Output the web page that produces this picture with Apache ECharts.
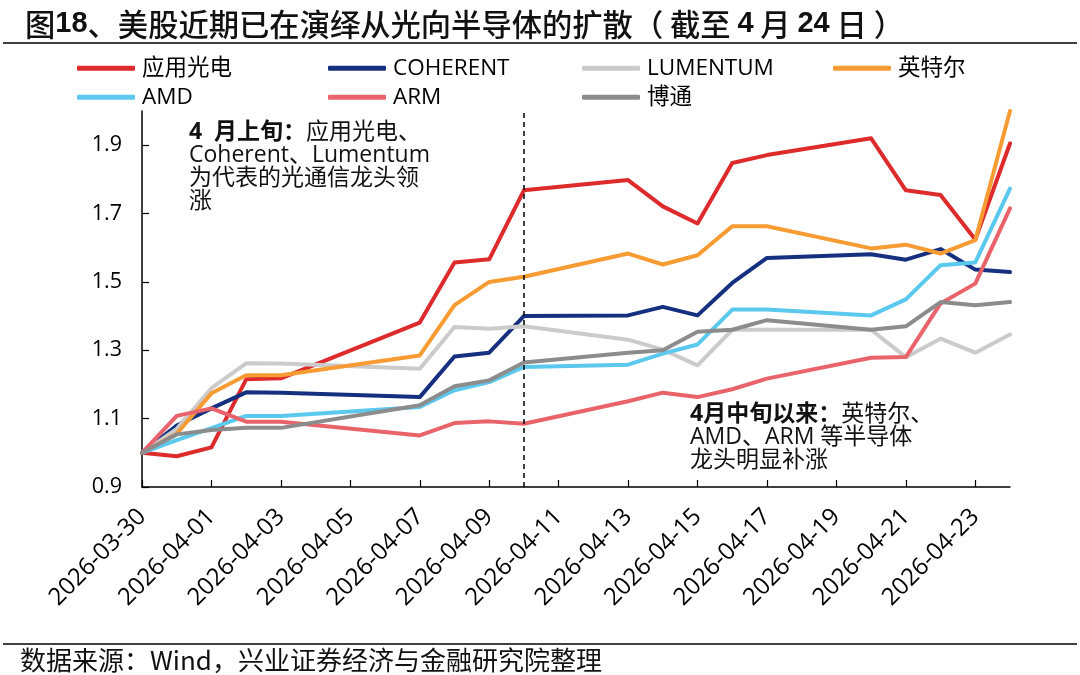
<!DOCTYPE html>
<html>
<head>
<meta charset="utf-8">
<script src="https://cdn.jsdelivr.net/npm/echarts@6/dist/echarts.min.js"></script>
<style>
html,body{margin:0;padding:0;background:#fff;}
#chart{width:1080px;height:675px;}
</style>
</head>
<body>
<div id="chart"></div>
<script>
// calendar dates on the axis (non-trading days have null values)
const dates = ['2026-03-30','2026-03-31','2026-04-01','2026-04-02','2026-04-03','2026-04-04','2026-04-05','2026-04-06','2026-04-07','2026-04-08','2026-04-09','2026-04-10','2026-04-11','2026-04-12','2026-04-13','2026-04-14','2026-04-15','2026-04-16','2026-04-17','2026-04-18','2026-04-19','2026-04-20','2026-04-21','2026-04-22','2026-04-23','2026-04-24'];
const seriesNames = ['应用光电','COHERENT','LUMENTUM','英特尔','AMD','ARM','博通'];
const aaoi     = [1.00,0.99,1.016,1.215,1.218,null,null,null,1.381,1.557,1.566,1.768,null,null,1.798,1.721,1.671,1.848,1.871,null,null,1.920,1.768,1.754,1.624,1.905];
const coherent = [1.00,1.08,1.130,1.177,1.176,null,null,null,1.163,1.282,1.293,1.400,null,null,1.402,1.427,1.402,1.497,1.570,null,null,1.581,1.565,1.596,1.536,1.529];
const lumentum = [1.00,1.07,1.189,1.262,1.261,null,null,null,1.246,1.368,1.363,1.370,null,null,1.331,1.302,1.256,1.360,1.360,null,null,1.360,1.280,1.334,1.293,1.346];
const intel    = [1.00,1.056,1.174,1.227,1.227,null,null,null,1.285,1.432,1.500,1.515,null,null,1.583,1.551,1.578,1.663,1.663,null,null,1.598,1.609,1.583,1.622,2.000];
const amd      = [1.00,1.037,1.072,1.108,1.108,null,null,null,1.134,1.183,1.207,1.251,null,null,1.258,1.290,1.317,1.419,1.419,null,null,1.402,1.449,1.549,1.557,1.773];
const arm      = [1.00,1.108,1.130,1.091,1.091,null,null,null,1.051,1.087,1.092,1.085,null,null,1.151,1.176,1.163,1.186,1.217,null,null,1.278,1.280,1.437,1.495,1.715];
const broadcom = [1.00,1.054,1.067,1.073,1.073,null,null,null,1.139,1.195,1.212,1.264,null,null,1.293,1.300,1.354,1.360,1.388,null,null,1.360,1.370,1.441,1.432,1.441];
const yTicks = [0.9,1.1,1.3,1.5,1.7,1.9];
const dividerDate = '2026-04-10';

const values = [aaoi, coherent, lumentum, intel, amd, arm, broadcom];
const colors = ['#DD2A2B','#14307F','#CBCBCB','#F79B33','#5BC8EE','#E8636A','#8C8C8C'];
const FONT = "'Open Sans','Noto Sans CJK SC',sans-serif";

const legendPos = [[77,57],[328,57],[582,57],[833,57],[77,86],[328,86],[582,86]];

const series = seriesNames.map((n,i)=>({
  name:n, type:'line', data:values[i], connectNulls:true,
  symbol:'none', showSymbol:false, smooth:false,
  lineStyle:{width:4, color:colors[i], cap:'round', join:'round'},
  itemStyle:{color:colors[i]},
  emphasis:{disabled:true},
  markLine: i===0 ? {
    silent:true, symbol:'none', label:{show:false},
    lineStyle:{type:[5,4], color:'#000', width:1.5},
    data:[{xAxis:dividerDate}]
  } : undefined
}));

const legends = seriesNames.map((n,i)=>({
  data:[{name:n, icon:'roundRect'}],
  left:legendPos[i][0], top:legendPos[i][1],
  itemWidth:58, itemHeight:5, padding:0, itemGap:0,
  selectedMode:false,
  textStyle:{fontSize:22.5, color:'#000', fontFamily:FONT, padding:[0,0,0,2]}
}));

const chart = echarts.init(document.getElementById('chart'), null, {renderer:'canvas'});
chart.setOption({
  backgroundColor:'#fff',
  animation:false,
  title:{
    left:20, top:4,
    text:'{a|图}{b|18}{a|、美股近期已在演绎从光向半导体的扩散（ 截至 }{b|4}{a| 月 }{b|24}{a| 日 ）}',
    textStyle:{
      rich:{
        a:{fontFamily:"'Noto Sans CJK SC'", fontSize:30.3, fontWeight:500, color:'#111'},
        b:{fontFamily:"'Liberation Sans',Arial", fontSize:29, fontWeight:'bold', color:'#111'}
      }
    }
  },
  legend:legends,
  grid:{left:142, right:70, top:111, bottom:188},
  xAxis:{
    type:'category', data:dates, boundaryGap:false,
    axisLine:{lineStyle:{color:'#000', width:1.5}},
    axisTick:{inside:true, length:7, interval:1, lineStyle:{color:'#000', width:1.2}},
    axisLabel:{interval:1, rotate:45, fontSize:24, color:'#000', fontFamily:FONT, margin:26},
    splitLine:{show:false}
  },
  yAxis:{
    type:'value', min:0.9, max:2.0,
    axisLine:{show:true, lineStyle:{color:'#000', width:1.5}},
    axisTick:{show:true, inside:true, length:7, customValues:yTicks, lineStyle:{color:'#000', width:1.2}},
    axisLabel:{customValues:yTicks, fontSize:21.5, color:'#000', fontFamily:FONT, margin:20,
      formatter:v=>v.toFixed(1)},
    splitLine:{show:false}
  },
  series:series,
  graphic:[
    {type:'line', shape:{x1:3,y1:43,x2:1077,y2:43}, style:{stroke:'#000', lineWidth:1.5}},
    {type:'line', shape:{x1:3,y1:644,x2:1077,y2:644}, style:{stroke:'#000', lineWidth:1.5}},
    {type:'text', x:20, y:660, style:{
      text:'数据来源：Wind，兴业证券经济与金融研究院整理',
      font:"26px 'Noto Sans CJK SC'", fill:'#111', verticalAlign:'middle'}},
    {type:'text', x:189, y:121, style:{
      text:'{b|4  月上旬：}{n|应用光电、}\n{n|Coherent、Lumentum}\n{n|为代表的光通信龙头领}\n{n|涨}',
      verticalAlign:'top', fill:'#111',
      rich:{
        b:{fontFamily:FONT, fontSize:23, fontWeight:'bold', lineHeight:23, fill:'#111'},
        n:{fontFamily:FONT, fontSize:23, lineHeight:23, fill:'#111'}
      }}},
    {type:'text', x:690, y:403, style:{
      text:'{b|4月中旬以来：}{n|英特尔、}\n{n|AMD、ARM 等半导体}\n{n|龙头明显补涨}',
      verticalAlign:'top', fill:'#111',
      rich:{
        b:{fontFamily:FONT, fontSize:23, fontWeight:'bold', lineHeight:23, fill:'#111'},
        n:{fontFamily:FONT, fontSize:23, lineHeight:23, fill:'#111'}
      }}}
  ]
});
</script>
</body>
</html>
